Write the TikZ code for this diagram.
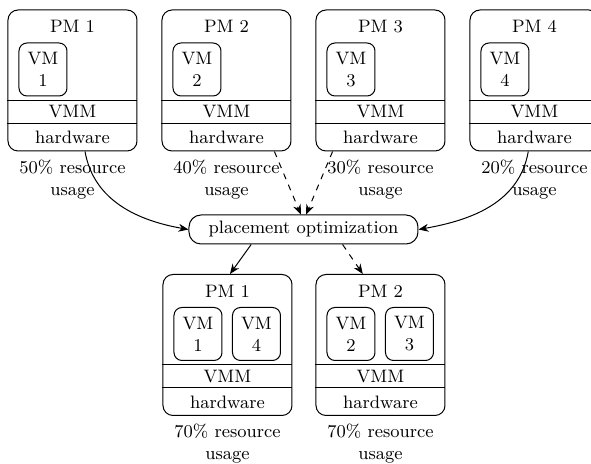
\documentclass[tikz,border=0pt]{standalone}
\usetikzlibrary{arrows.meta,positioning}
\tikzset
{
    pmbox/.style    = {draw=black, rounded corners=5pt, minimum width=64.5pt, minimum height=70.5pt, inner sep=0pt},
    vmbox/.style    = {draw=black, rounded corners=4pt, align=center, minimum width=24pt, minimum height=26.5pt, inner sep=0pt},
    vmmlayer/.style = {minimum width=64.5pt, minimum height=11pt, inner sep=0pt},
    hwlayer/.style  = {minimum width=64.5pt, minimum height=13.5pt, inner sep=0pt},
    usage/.style    = {align=center, inner sep=0pt},
    optbox/.style   = {draw=black, rounded corners=6pt, minimum width=114.5pt, minimum height=14.5pt, inner sep=0pt}
}

\begin{document}
\begin{tikzpicture}[x=0.5pt, y=0.5pt, line width=0.5pt, >={Stealth[length=5pt,width=4pt]},
    font=\fontsize{9pt}{11pt}\selectfont]
    \useasboundingbox (0,0) rectangle (591,-464);
    % physical machines before placement
    \foreach \i/\u in {1/50,2/40,3/30,4/20}
    {
        \node [pmbox] (pm\i) at ({72.5+154*(\i-1)},-80.5) {};
        \node (title\i) at ([yshift=-8.5pt]pm\i.north) {PM \i};
        \node [vmbox] (vm\i) at ([xshift=-14.75pt,yshift=5.5pt]pm\i.center) {VM\\\i};
        \node [hwlayer, anchor=south] (hw\i) at (pm\i.south) {hardware};
        \node [vmmlayer, anchor=south] (vmm\i) at (hw\i.north) {VMM};
        \draw (vmm\i.north west) -- (vmm\i.north east);
        \draw (hw\i.north west) -- (hw\i.north east);
        \node [usage, below=4pt of pm\i] (use\i) {\u\% resource\\usage};
    }
    \node [optbox] (opt) at (303.5,-229.5) {placement optimization};
    % physical machines after placement
    \foreach \j/\a/\b/\x in {1/1/4/227.5,2/2/3/380.5}
    {
        \node [pmbox] (new\j) at (\x,-345) {};
        \node (newtitle\j) at ([yshift=-8.5pt]new\j.north) {PM \j};
        \node [vmbox] (newvm\a) at ([xshift=-14.75pt,yshift=5.5pt]new\j.center) {VM\\\a};
        \node [vmbox] (newvm\b) at ([xshift=14.5pt,yshift=5.5pt]new\j.center) {VM\\\b};
        \node [hwlayer, anchor=south] (newhw\j) at (new\j.south) {hardware};
        \node [vmmlayer, anchor=south] (newvmm\j) at (newhw\j.north) {VMM};
        \draw (newvmm\j.north west) -- (newvmm\j.north east);
        \draw (newhw\j.north west) -- (newhw\j.north east);
        \node [usage, below=4pt of new\j] (newuse\j) {70\% resource\\usage};
    }
    \draw [->] (pm1.-80) to [out=-80, in=170] (opt.west);
    \draw [->] (pm4.-95) to [out=-100, in=10] (opt.east);
    \draw [->, dashed] (pm2.-56) -- (opt.100);
    \draw [->, dashed] (pm3.-124) -- (opt.80);
    \draw [->] (opt.-164) -- (new1.88);
    \draw [->, dashed] (opt.-21) -- (new2.104);
\end{tikzpicture}
\end{document}
